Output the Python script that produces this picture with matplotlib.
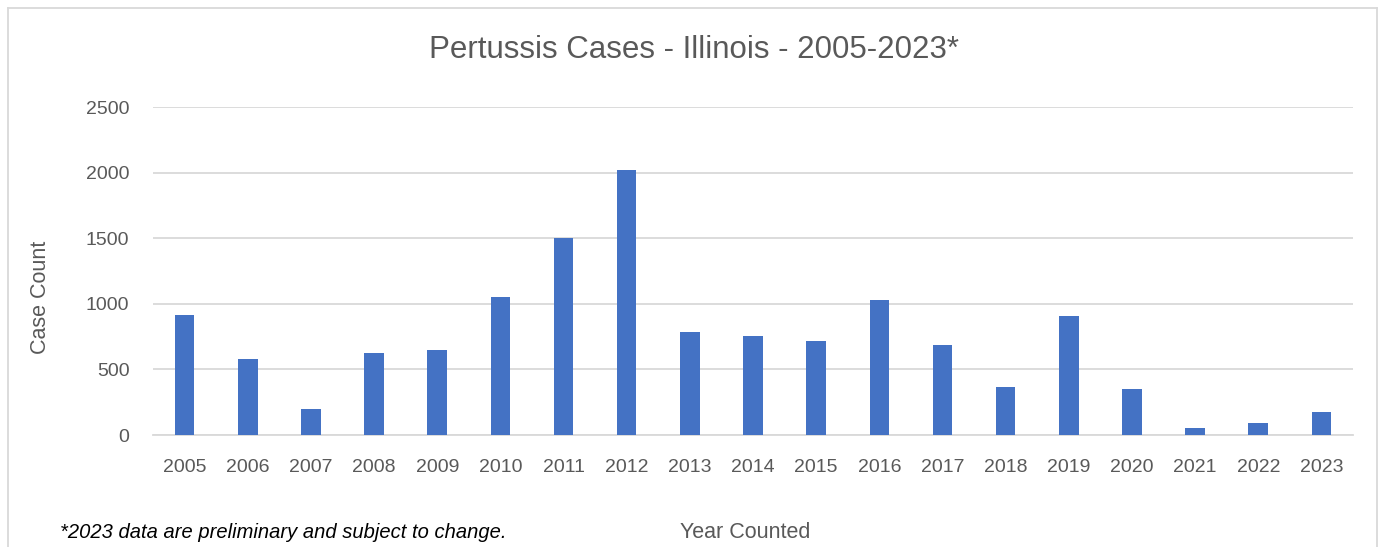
import matplotlib
matplotlib.use('Agg')
import matplotlib.pyplot as plt
from matplotlib.lines import Line2D

years = ['2005', '2006', '2007', '2008', '2009', '2010', '2011', '2012', '2013', '2014',
         '2015', '2016', '2017', '2018', '2019', '2020', '2021', '2022', '2023']
cases = [918, 583, 195, 624, 645, 1053, 1505, 2020, 782, 758,
         717, 1030, 687, 367, 907, 352, 52, 92, 174]
y_ticks = [0, 500, 1000, 1500, 2000, 2500]

plt.rcParams['font.family'] = ['Liberation Sans', 'DejaVu Sans']
text_color = '#595959'

fig = plt.figure(figsize=(13.85, 5.47), dpi=100)
W, H = 1385, 547
ax = fig.add_axes([153 / W, 1 - 435 / H, 1200 / W, 328 / H])

x = list(range(len(years)))
ax.bar(x, cases, width=0.31, color='#4472C4', zorder=3)

ax.set_xlim(-0.5, len(years) - 0.5)
ax.set_ylim(0, 2500)
ax.set_yticks(y_ticks)
ax.set_xticks(x)
ax.set_xticklabels(years)
ax.tick_params(axis='both', length=0, colors=text_color, labelsize=14)
ax.tick_params(axis='x', pad=17)
ax.tick_params(axis='y', pad=17)
ax.yaxis.grid(True, color='#D9D9D9', linewidth=1.3, zorder=0)
for s in ['top', 'right', 'left']:
    ax.spines[s].set_visible(False)
ax.spines['bottom'].set_color('#D9D9D9')
ax.spines['bottom'].set_linewidth(1.3)

fig.text(694 / W, 1 - 50 / H, 'Pertussis Cases - Illinois - 2005-2023*',
         ha='center', va='center', fontsize=22.5, color=text_color)
fig.text(41 / W, 1 - 297 / H, 'Case Count', rotation=90,
         ha='center', va='center', fontsize=15.5, color=text_color)
fig.text(745 / W, 1 - 533 / H, 'Year Counted',
         ha='center', va='center', fontsize=15.5, color=text_color)
fig.text(60 / W, 1 - 533 / H, '*2023 data are preliminary and subject to change.',
         ha='left', va='center', fontsize=14.5, style='italic', color='black')

# chart area border (bottom edge is cut off)
border = dict(color='#D9D9D9', linewidth=1.3, transform=fig.transFigure)
fig.add_artist(Line2D([8 / W, 1377 / W], [1 - 8 / H, 1 - 8 / H], **border))
fig.add_artist(Line2D([8 / W, 8 / W], [0, 1 - 8 / H], **border))
fig.add_artist(Line2D([1377 / W, 1377 / W], [0, 1 - 8 / H], **border))

fig.savefig('out.png', dpi=100)
